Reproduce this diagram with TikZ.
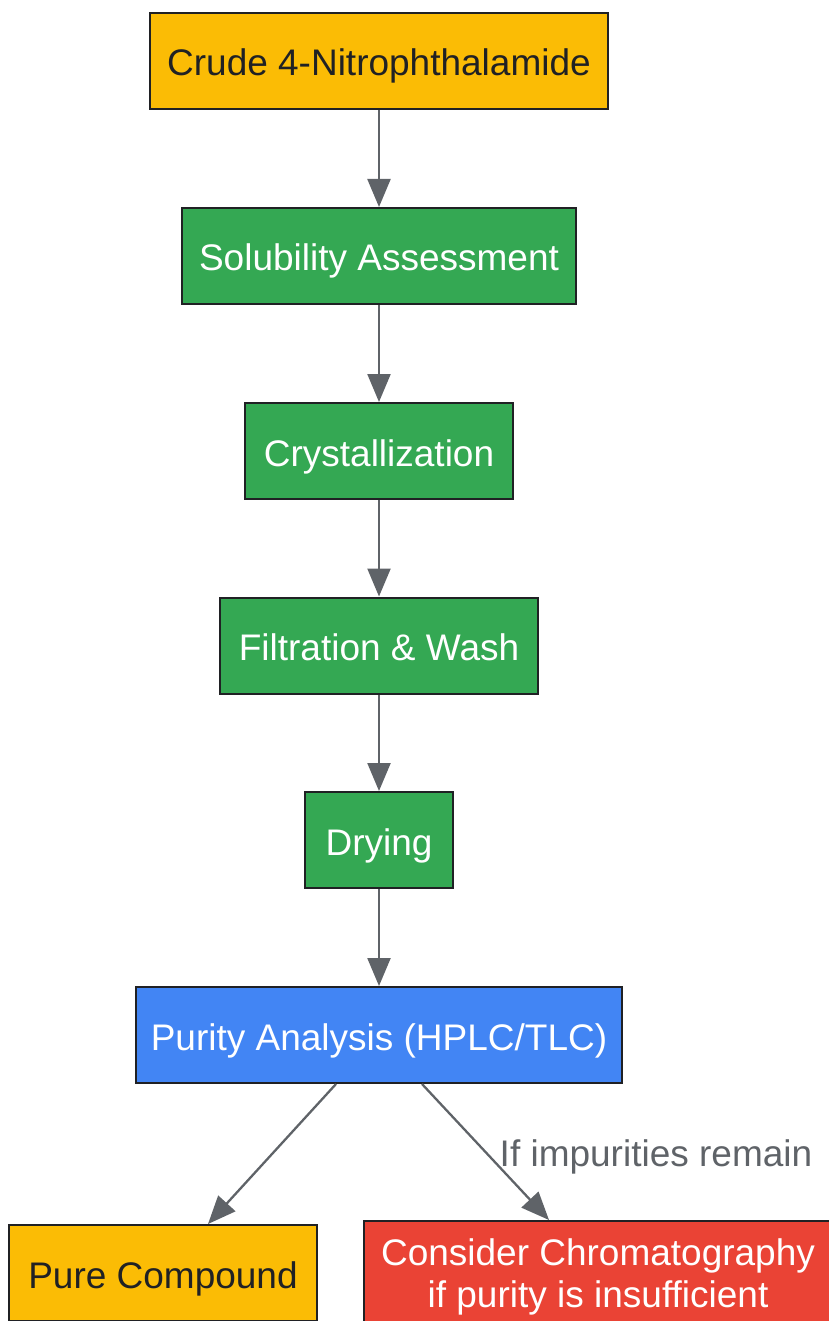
\documentclass[tikz,border=0pt]{standalone}
\usepackage{fontspec}
\setmainfont{Liberation Sans}
\usetikzlibrary{arrows.meta}
\definecolor{gyellow}{HTML}{FBBC05}
\definecolor{ggreen}{HTML}{34A853}
\definecolor{gblue}{HTML}{4285F4}
\definecolor{gred}{HTML}{EA4335}
\definecolor{gdark}{HTML}{202124}
\definecolor{ggray}{HTML}{5F6368}
\begin{document}
\begin{tikzpicture}[x=1pt,y=-1pt,
    box/.style={draw=gdark,line width=2pt,minimum height=96pt,inner sep=0pt,
      font=\fontsize{37}{42}\selectfont},
    onerow/.style={text height=30pt,text depth=0pt},
    endbox/.style={box,onerow,fill=gyellow,text=gdark},
    stepbox/.style={box,onerow,fill=ggreen,text=white},
    checkbox/.style={box,onerow,fill=gblue,text=white},
    warnbox/.style={box,fill=gred,text=white,align=center},
    flow/.style={draw=ggray,line width=2.3pt,-{Triangle[length=28pt,width=23pt]}}]
      \useasboundingbox (0,0) rectangle (828,1321);

      %%%%%%%%%%%%%%%%%%%%%%%%%%%%%%%%%%%%%%%%%%%%%%%%%%%%%%%%%%%%%%%%%%%%%%%%%%%
      %%%%  Main column
      \node[endbox,minimum width=458pt] (crude) at (379,61) {Crude 4-Nitrophthalamide};
      \node[stepbox,minimum width=394pt] (solub) at (379,256) {Solubility Assessment};
      \node[stepbox,minimum width=268pt] (cryst) at (379,451) {Crystallization};
      \node[stepbox,minimum width=318pt] (filt) at (379,645.5) {Filtration \& Wash};
      \node[stepbox,minimum width=148pt] (dry) at (379,840) {Drying};
      \node[checkbox,minimum width=486pt] (purity) at (379,1035) {Purity Analysis (HPLC/TLC)};

      \foreach \a/\b in {crude/solub,solub/cryst,cryst/filt,filt/dry,dry/purity}
       {\draw[flow] (\a) -- (\b);};

      %%%%%%%%%%%%%%%%%%%%%%%%%%%%%%%%%%%%%%%%%%%%%%%%%%%%%%%%%%%%%%%%%%%%%%%%%%%
      %%%%  Outcomes
      \node[endbox,minimum width=308pt] (pure) at (163,1273) {Pure Compound};
      \node[warnbox,minimum width=468pt,minimum height=112pt] (chrom) at (598,1277)
        {Consider Chromatography\\[0pt]if purity is insufficient};

      \draw[flow] ([xshift=-43pt]purity.south) -- ([xshift=45pt]pure.north);
      \draw[flow] ([xshift=43pt]purity.south) -- ([xshift=-49pt]chrom.north);
      \node[text=ggray,font=\fontsize{37}{42}\selectfont] (remain) at (656,1157) {If impurities remain};
    \end{tikzpicture}
\end{document}
